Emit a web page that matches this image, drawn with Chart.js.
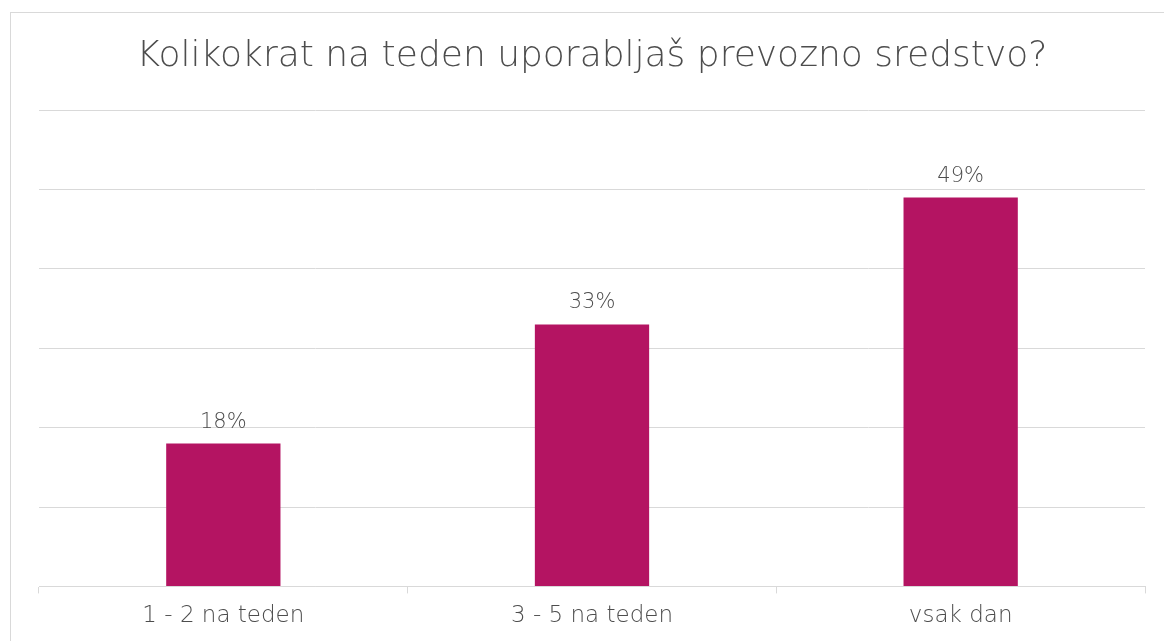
<!DOCTYPE html>
<html>
<head>
<meta charset="utf-8">
<script src="https://cdn.jsdelivr.net/npm/chart.js@4/dist/chart.umd.min.js"></script>
<style>
    html, body { margin: 0; padding: 0; background: #ffffff; }
    #frame { position: absolute; left: 10px; top: 12px; width: 1200px; height: 700px; border: 1px solid #d9d9d9; }
    #wrap { position: absolute; left: 0; top: 0; width: 1164px; height: 641px; }
</style>
</head>
<body>
<div id="frame"></div>
<div id="wrap"><canvas id="myChart"></canvas></div>
<script>
// Chart data
const categories = ['1 - 2 na teden', '3 - 5 na teden', 'vsak dan'];
const shares = [0.18, 0.33, 0.49];
const chartTitle = 'Kolikokrat na teden uporabljaš prevozno sredstvo?';

const textColor = '#4d4d4d';
const gridColor = '#d9d9d9';
const fontFamily = '"DejaVu Sans", sans-serif';

// Draw the percentage above each bar
const valueLabels = {
    id: 'valueLabels',
    afterDatasetsDraw(chart) {
        const ctx = chart.ctx;
        const meta = chart.getDatasetMeta(0);
        ctx.save();
        ctx.fillStyle = textColor;
        ctx.font = '200 21px ' + fontFamily;
        ctx.textAlign = 'center';
        ctx.textBaseline = 'alphabetic';
        meta.data.forEach((bar, i) => {
            const v = chart.data.datasets[0].data[i];
            ctx.fillText(Math.round(v * 100) + '%', bar.x, bar.y - 16);
        });
        ctx.restore();
    }
};

const myChart = new Chart(document.getElementById('myChart'), {
    type: 'bar',
    data: {
        labels: categories,
        datasets: [{
            data: shares,
            backgroundColor: '#b41462',
            borderWidth: 0,
            barPercentage: 0.31,
            categoryPercentage: 1.0
        }]
    },
    options: {
        responsive: true,
        maintainAspectRatio: false,
        animation: false,
        layout: {
            padding: { left: 39, right: 19, top: 0, bottom: 2 }
        },
        scales: {
            x: {
                grid: {
                    display: true,
                    drawOnChartArea: false,
                    drawTicks: true,
                    tickLength: 7,
                    color: gridColor
                },
                border: { display: true, color: gridColor, width: 1 },
                ticks: {
                    color: textColor,
                    padding: 9,
                    font: { size: 23, family: fontFamily, weight: 200 }
                }
            },
            y: {
                min: 0,
                max: 0.6,
                ticks: { display: false, stepSize: 0.1 },
                grid: { color: gridColor, drawTicks: false },
                border: { display: false }
            }
        },
        plugins: {
            legend: { display: false },
            tooltip: { enabled: false },
            title: {
                display: true,
                text: chartTitle,
                color: textColor,
                font: { size: 36, family: fontFamily, weight: 200 },
                padding: { top: 35, bottom: 32 }
            }
        }
    },
    plugins: [valueLabels]
});
</script>
</body>
</html>
